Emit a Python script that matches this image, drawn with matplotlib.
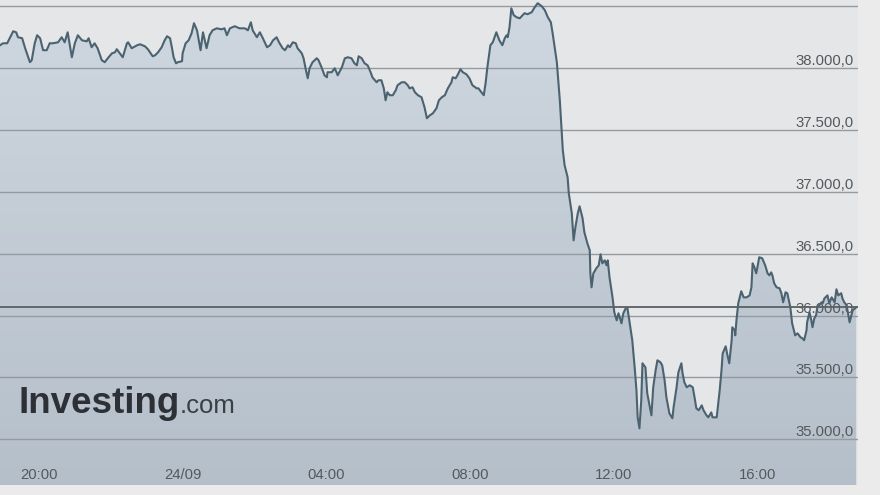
#!/usr/bin/env python3

import numpy as np
import pandas
import matplotlib
matplotlib.use("Agg")
import matplotlib.pyplot as plt
import matplotlib.dates as mdates
from matplotlib.colors import LinearSegmentedColormap

# minutes after 20:00 on 23/09, and price
offset_min = [
    -65, -60, -53, -48, -43, -38, -35, -28, -23, -15, -12, -7, -3, 2, 7, 13, 18, 23, 32, 38,
    43, 48, 55, 60, 65, 72, 80, 83, 88, 93, 98, 105, 110, 115, 122, 127, 130, 135, 140, 147,
    149, 155, 164, 169, 177, 182, 190, 194, 199, 205, 210, 214, 219, 222, 225, 229, 232, 239, 240, 245,
    250, 255, 259, 264, 270, 274, 280, 285, 290, 297, 305, 310, 314, 319, 327, 335, 344, 349, 354, 357,
    364, 369, 374, 381, 386, 391, 397, 401, 407, 411, 416, 419, 424, 429, 432, 439, 442, 446, 449, 452,
    457, 464, 467, 472, 477, 481, 482, 489, 494, 497, 499, 506, 511, 516, 522, 527, 531, 534, 539, 544,
    549, 554, 557, 564, 567, 572, 576, 579, 582, 586, 591, 596, 599, 606, 611, 616, 619, 624, 628, 633,
    639, 644, 648, 653, 658, 664, 668, 673, 678, 683, 689, 691, 696, 699, 704, 708, 714, 719, 724, 731,
    734, 739, 743, 746, 749, 754, 758, 764, 769, 774, 778, 781, 783, 786, 789, 793, 798, 803, 808, 811,
    816, 823, 828, 833, 840, 845, 850, 855, 858, 865, 870, 875, 878, 883, 885, 890, 893, 896, 900, 903,
    908, 911, 916, 920, 921, 923, 926, 931, 935, 938, 941, 945, 948, 950, 953, 958, 961, 965, 968, 973,
    976, 980, 983, 986, 991, 995, 998, 1000, 1003, 1006, 1008, 1013, 1016, 1023, 1026, 1030, 1033, 1038, 1041, 1045,
    1048, 1053, 1058, 1060, 1065, 1068, 1073, 1075, 1078, 1082, 1087, 1092, 1095, 1098, 1102, 1107, 1110, 1115, 1118, 1123,
    1125, 1132, 1137, 1140, 1142, 1147, 1150, 1153, 1157, 1158, 1162, 1163, 1165, 1168, 1173, 1177, 1182, 1187, 1190, 1192,
    1195, 1198, 1200, 1203, 1208, 1213, 1217, 1220, 1223, 1225, 1228, 1232, 1237, 1240, 1243, 1247, 1250, 1255, 1258, 1263,
    1267, 1272, 1275, 1278, 1282, 1283, 1287, 1290, 1292, 1295, 1298, 1300, 1307, 1309, 1312, 1317, 1320, 1324, 1329, 1332,
    1335, 1340, 1342, 1345, 1349, 1354, 1357, 1359, 1365,
]
price = [
    38186, 38202, 38202, 38251, 38299, 38291, 38251, 38243, 38162, 38049, 38065, 38202, 38267, 38243, 38146, 38146, 38202, 38202, 38210, 38251,
    38210, 38291, 38089, 38202, 38267, 38226, 38218, 38243, 38170, 38202, 38162, 38065, 38049, 38081, 38121, 38129, 38154, 38121, 38089, 38202,
    38210, 38162, 38186, 38194, 38178, 38154, 38097, 38105, 38129, 38170, 38226, 38259, 38243, 38170, 38089, 38040, 38049, 38057, 38121, 38202,
    38226, 38283, 38364, 38307, 38146, 38291, 38162, 38267, 38307, 38323, 38315, 38323, 38267, 38323, 38340, 38323, 38323, 38307, 38372, 38307,
    38251, 38291, 38243, 38170, 38186, 38226, 38251, 38210, 38162, 38146, 38186, 38170, 38210, 38202, 38162, 38121, 38081, 37984, 37919, 38000,
    38049, 38081, 38065, 38008, 37943, 37927, 37968, 37968, 38000, 37968, 37943, 38008, 38081, 38089, 38081, 38040, 38024, 38097, 38081, 38040,
    38024, 37968, 37927, 37887, 37903, 37903, 37838, 37741, 37806, 37782, 37782, 37822, 37863, 37887, 37887, 37863, 37838, 37846, 37806, 37782,
    37766, 37685, 37596, 37620, 37636, 37677, 37741, 37766, 37782, 37838, 37887, 37927, 37919, 37943, 37992, 37968, 37951, 37919, 37863, 37838,
    37838, 37806, 37782, 37879, 38008, 38186, 38210, 38291, 38226, 38186, 38243, 38267, 38251, 38332, 38485, 38429, 38412, 38404, 38429, 38445,
    38437, 38453, 38493, 38526, 38501, 38469, 38412, 38372, 38283, 38049, 37741, 37337, 37216, 37119, 36989, 36828, 36609, 36714, 36828, 36884,
    36787, 36674, 36585, 36528, 36342, 36229, 36342, 36383, 36407, 36496, 36423, 36447, 36407, 36447, 36310, 36148, 36027, 35962, 36019, 35938,
    36019, 36059, 36059, 35962, 35801, 35582, 35396, 35178, 35089, 35315, 35615, 35582, 35372, 35194, 35421, 35558, 35639, 35623, 35598, 35477,
    35340, 35210, 35170, 35259, 35421, 35542, 35615, 35534, 35461, 35421, 35437, 35421, 35340, 35251, 35235, 35275, 35235, 35194, 35178, 35218,
    35178, 35178, 35396, 35558, 35695, 35752, 35679, 35615, 35801, 35906, 35881, 35841, 35962, 36100, 36197, 36148, 36148, 36164, 36229, 36423,
    36391, 36342, 36391, 36472, 36464, 36407, 36342, 36326, 36350, 36326, 36262, 36229, 36221, 36181, 36108, 36189, 36181, 36067, 35938, 35841,
    35857, 35825, 35817, 35801, 35881, 35946, 36027, 35962, 35906, 35978, 36003, 36067, 36108, 36100, 36140, 36164, 36100, 36148, 36108, 36213,
    36164, 36181, 36140, 36108, 36084, 35946, 36003, 36043, 36067,
]

tick_offsets = [0, 240, 480, 720, 960, 1200]
tick_labels = ["20:00", "24/09", "04:00", "08:00", "12:00", "16:00"]
price_levels = [35000, 35500, 36000, 36500, 37000, 37500, 38000, 38500]
level_labels = ["35.000,0", "35.500,0", "36.000,0", "36.500,0",
                "37.000,0", "37.500,0", "38.000,0", ""]

start = pandas.Timestamp("2024-09-23 20:00")
times = start + pandas.to_timedelta(offset_min, unit="min")
tick_times = start + pandas.to_timedelta(tick_offsets, unit="min")

plt.rcParams["font.family"] = ["Liberation Sans", "DejaVu Sans"]

fig = plt.figure(figsize=(8.8, 4.95), dpi=100, facecolor="#ebebeb")
ax = fig.add_axes([0, 0.02, 0.975, 0.98])
ax.set_facecolor("#e5e6e7")

bottom, top = 34630, 38552
x0 = times[0]
x1 = times[-1] + pandas.Timedelta(minutes=3)

area = ax.fill_between(times, price, bottom, color="none", lw=0, zorder=1)
# vertical gradient under the line
cmap = LinearSegmentedColormap.from_list("area", ["#b5bfca", "#cfd8e0"])
grad = np.linspace(0, 1, 256).reshape(-1, 1)
im = ax.imshow(grad, cmap=cmap, origin="lower", aspect="auto", zorder=1,
               extent=[mdates.date2num(x0), mdates.date2num(x1), bottom, top])
im.set_clip_path(area.get_paths()[0], transform=ax.transData)

ax.plot(times, price, color="#4b6371", lw=1.5, zorder=3)
ax.axhline(price[-1], color="#5b5f63", lw=1.3, zorder=4)

ax.set_xlim(x0, x1)
ax.set_ylim(bottom, top)

ax.set_yticks(price_levels)
ax.set_yticklabels(level_labels)
ax.yaxis.tick_right()
ax.tick_params(axis="y", length=0, pad=-3, labelsize=10.7, labelcolor="#55595d")
for lbl in ax.get_yticklabels():
    lbl.set_horizontalalignment("right")
    lbl.set_verticalalignment("bottom")

ax.set_xticks(tick_times)
ax.set_xticklabels(tick_labels)
ax.tick_params(axis="x", length=0, pad=-12, labelsize=10.7, labelcolor="#55595d")

ax.grid(axis="y", color="#949a9f", lw=1)
ax.grid(axis="x", visible=False)
ax.set_axisbelow(False)
for s in ax.spines.values():
    s.set_visible(False)

fig.text(18 / 880, 1 - 413 / 495, "Investing", fontsize=26.5, fontweight="bold",
         color="#2d3136", va="baseline", ha="left")
fig.text(180 / 880, 1 - 413 / 495, ".com", fontsize=18.5, color="#3a3f44",
         va="baseline", ha="left")

fig.savefig("out.png", dpi=100, facecolor=fig.get_facecolor())
